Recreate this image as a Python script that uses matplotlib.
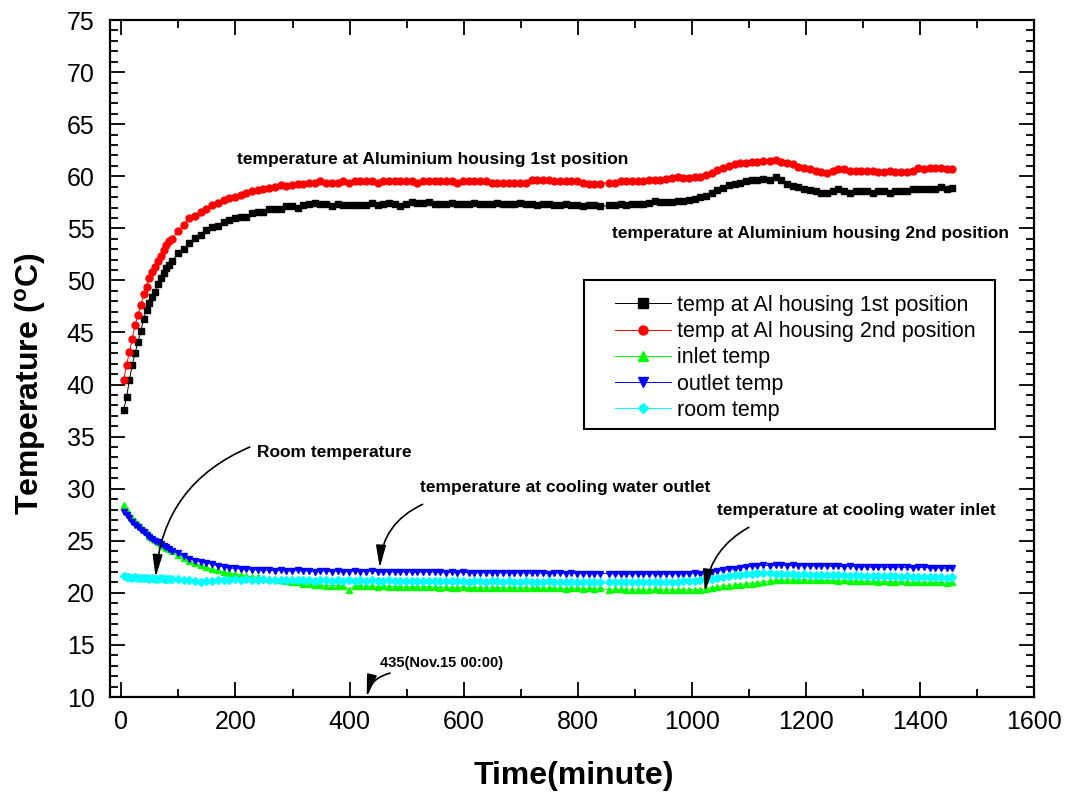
import matplotlib.pyplot as plt
import numpy as np
from matplotlib.patches import Rectangle
from matplotlib.ticker import MultipleLocator

plt.rcParams['font.family'] = ['Liberation Sans', 'DejaVu Sans']
plt.rcParams['mathtext.fontset'] = 'custom'
plt.rcParams['mathtext.rm'] = 'Liberation Sans'
plt.rcParams['mathtext.bf'] = 'Liberation Sans:bold'

# sampling times (minutes): 5 min at the start, then 10 min, with two logger gaps
time = np.concatenate([np.arange(4, 90, 5), np.arange(99, 840, 10),
                       np.arange(855, 1126, 10), np.arange(1137, 1458, 10)])

al_1st = [37.6, 38.8, 40.4, 41.9, 43.0, 44.1, 45.1, 46.3, 47.2, 47.8, 48.4, 48.9, 49.7, 50.2, 50.7, 51.2, 51.5, 51.9,
          52.6, 53.0, 53.6, 54.1, 54.4, 54.8, 55.1, 55.2, 55.6, 55.8, 56.0, 56.1, 56.1, 56.5, 56.6, 56.6, 56.9, 56.9,
          56.9, 57.1, 57.1, 57.0, 57.2,
          57.3, 57.4, 57.3, 57.3, 57.1, 57.3, 57.2, 57.2, 57.2, 57.2, 57.2, 57.4, 57.2, 57.3, 57.4, 57.3, 57.1, 57.3,
          57.5, 57.4, 57.4, 57.5, 57.3, 57.3, 57.3, 57.4, 57.3, 57.3, 57.3, 57.4, 57.3, 57.3, 57.3,
          57.4, 57.3, 57.3, 57.3, 57.4, 57.3, 57.3, 57.2, 57.3, 57.3, 57.2, 57.2, 57.3, 57.2, 57.2, 57.1, 57.2, 57.2, 57.1,
          57.2, 57.2, 57.3, 57.2, 57.3, 57.3,
          57.3, 57.4, 57.6, 57.5, 57.5, 57.5, 57.6, 57.6, 57.7, 57.8, 58.0, 58.1, 58.4, 58.7, 58.9, 59.2, 59.3, 59.4,
          59.5, 59.6, 59.6, 59.7,
          59.6, 59.9, 59.6, 59.3, 59.1, 59.0, 58.8, 58.7, 58.6, 58.4, 58.4, 58.6, 58.8, 58.6, 58.4, 58.6, 58.6, 58.6,
          58.4, 58.6, 58.6, 58.4, 58.6, 58.6, 58.6, 58.8, 58.8, 58.8, 58.8, 58.8, 59.0, 58.8, 58.9]

al_2nd = [40.4, 41.9, 43.1, 44.4, 45.7, 46.7, 47.6, 48.7, 49.4, 50.2, 50.8, 51.3, 51.9, 52.3, 52.9, 53.4, 53.8, 54.0,
          54.7, 55.3, 56.0, 56.2, 56.6, 56.9, 57.2, 57.4, 57.7, 57.9, 58.0, 58.2, 58.4, 58.6, 58.7, 58.8, 58.9, 59.0,
          59.2, 59.1, 59.2, 59.3, 59.3,
          59.4, 59.4, 59.5, 59.4, 59.4, 59.4, 59.5, 59.4, 59.5, 59.5, 59.5, 59.5, 59.4, 59.5, 59.5, 59.5, 59.5, 59.5,
          59.5, 59.4, 59.5, 59.5, 59.5, 59.5, 59.5, 59.5, 59.4, 59.5, 59.5, 59.5, 59.5, 59.5, 59.4, 59.4, 59.4, 59.4,
          59.4, 59.4, 59.4, 59.6, 59.6, 59.6, 59.6, 59.5, 59.5, 59.5, 59.5, 59.5, 59.4, 59.3, 59.3, 59.3,
          59.4, 59.4, 59.5, 59.5, 59.5, 59.5,
          59.54, 59.64, 59.64, 59.64, 59.7, 59.8, 59.9, 59.8, 59.8, 59.9, 59.96, 60.12, 60.34, 60.6, 60.82, 60.98,
          61.14, 61.24, 61.3, 61.4, 61.4, 61.46,
          61.5, 61.56, 61.4, 61.24, 61.14, 60.92, 60.76, 60.66, 60.53, 60.44, 60.34, 60.53, 60.66, 60.66, 60.53, 60.53,
          60.53, 60.53, 60.53, 60.44, 60.44, 60.5, 60.44, 60.44, 60.44, 60.53, 60.76, 60.66, 60.76, 60.76, 60.76,
          60.66, 60.66]

inlet = [28.4, 28.0, 27.6, 27.2, 26.9, 26.6, 26.3, 26.0, 25.8, 25.5, 25.3, 25.1, 24.9, 24.7, 24.5, 24.35, 24.2, 24.0,
         23.6, 23.35, 23.1, 22.85, 22.65, 22.45, 22.3, 22.15, 22.0, 21.9, 21.8, 21.7, 21.6, 21.55, 21.5, 21.4, 21.35,
         21.3, 21.2, 21.15, 21.05, 21.0, 20.9, 20.85, 20.75, 20.75, 20.7, 20.7, 20.7, 20.65, 20.3,
         20.7, 20.7, 20.65, 20.65, 20.6, 20.65, 20.6, 20.6, 20.6, 20.55, 20.6, 20.55, 20.55, 20.6, 20.55, 20.5, 20.55,
         20.5, 20.5, 20.55, 20.5, 20.5, 20.5, 20.5, 20.45, 20.5, 20.5, 20.45, 20.5, 20.5, 20.45, 20.45, 20.5, 20.45,
         20.45, 20.45, 20.45, 20.4, 20.45, 20.45, 20.4, 20.45, 20.4, 20.45,
         20.3, 20.35, 20.35, 20.3, 20.3, 20.3, 20.3, 20.3, 20.35, 20.3, 20.3, 20.3, 20.3, 20.3, 20.3, 20.3, 20.3,
         20.4, 20.5, 20.55, 20.65, 20.7, 20.75, 20.8, 20.85, 20.9, 20.95, 21.05,
         21.15, 21.2, 21.2, 21.25, 21.25, 21.25, 21.25, 21.2, 21.25, 21.2, 21.2, 21.2, 21.15, 21.2, 21.15, 21.15, 21.1,
         21.15, 21.1, 21.05, 21.1, 21.05, 21.05, 21.1, 21.05, 21.0, 21.05, 21.0, 21.0, 21.0, 21.0, 20.95, 21.0]

outlet = [27.8, 27.5, 27.2, 26.8, 26.5, 26.3, 26.0, 25.8, 25.6, 25.4, 25.2, 25.0, 24.85, 24.7, 24.5, 24.4, 24.2, 24.05,
          23.8, 23.5, 23.3, 23.1, 23.0, 22.85, 22.75, 22.6, 22.5, 22.4, 22.35, 22.3, 22.25, 22.2, 22.2, 22.15, 22.2,
          22.1, 22.15, 22.1, 22.1, 22.15, 22.1, 22.1, 22.05, 22.1, 22.1, 22.05, 22.1, 22.05, 22.05,
          22.1, 22.05, 22.05, 22.1, 22.05, 22.05, 22.0, 22.05, 22.0, 22.05, 22.0, 22.0, 22.0, 22.05, 22.0, 22.0, 21.95,
          22.0, 21.95, 22.0, 21.95, 21.95, 21.95, 21.95, 21.9, 21.95, 21.95, 21.9, 21.9, 21.95, 21.9, 21.9, 21.9, 21.9,
          21.85, 21.9, 21.9, 21.85, 21.9, 21.85, 21.85, 21.85, 21.85, 21.85,
          21.85, 21.8, 21.85, 21.8, 21.8, 21.85, 21.8, 21.8, 21.85, 21.8, 21.8, 21.8, 21.85, 21.8, 21.85, 21.9, 21.85,
          21.95, 22.0, 22.1, 22.15, 22.25, 22.3, 22.4, 22.5, 22.55, 22.6, 22.65,
          22.6, 22.65, 22.65, 22.6, 22.65, 22.6, 22.6, 22.6, 22.55, 22.6, 22.55, 22.55, 22.55, 22.5, 22.55, 22.5, 22.5,
          22.5, 22.45, 22.5, 22.45, 22.45, 22.5, 22.45, 22.45, 22.4, 22.45, 22.45, 22.4, 22.4, 22.4, 22.35, 22.4]

room = [21.6, 21.55, 21.5, 21.45, 21.5, 21.4, 21.45, 21.4, 21.4, 21.35, 21.4, 21.35, 21.35, 21.4, 21.3, 21.35, 21.3, 21.35,
        21.3, 21.25, 21.2, 21.15, 21.05, 21.1, 21.15, 21.2, 21.25, 21.2, 21.3, 21.25, 21.3, 21.25, 21.2, 21.3, 21.25,
        21.2, 21.25, 21.2, 21.2, 21.25, 21.2, 21.2, 21.15, 21.2, 21.2, 21.15, 21.2, 21.15, 21.2,
        21.15, 21.2, 21.15, 21.2, 21.15, 21.15, 21.2, 21.15, 21.1, 21.15, 21.15, 21.1, 21.15, 21.1, 21.15, 21.1, 21.1,
        21.15, 21.1, 21.1, 21.05, 21.1, 21.1, 21.05, 21.1, 21.1, 21.05, 21.1, 21.05, 21.05, 21.1, 21.05, 21.05, 21.05,
        21.1, 21.05, 21.05, 21.0, 21.05, 21.05, 21.0, 21.05, 21.0, 21.0,
        21.0, 21.05, 21.0, 21.0, 21.05, 21.0, 21.0, 21.05, 21.0, 21.0, 21.05, 21.0, 21.05, 21.1, 21.1, 21.15, 21.2,
        21.25, 21.35, 21.45, 21.55, 21.6, 21.7, 21.75, 21.8, 21.85, 21.9, 21.95,
        21.9, 21.85, 21.85, 21.8, 21.8, 21.75, 21.8, 21.75, 21.75, 21.7, 21.75, 21.7, 21.7, 21.7, 21.65, 21.7, 21.65,
        21.65, 21.6, 21.65, 21.6, 21.6, 21.6, 21.55, 21.6, 21.55, 21.55, 21.5, 21.55, 21.5, 21.5, 21.45, 21.5]

series = [(al_1st, 'k', 's', 'temp at Al housing 1st position'),
          (al_2nd, '#ff0000', 'o', 'temp at Al housing 2nd position'),
          (inlet, '#00ff00', '^', 'inlet temp'),
          (outlet, '#0000ff', 'v', 'outlet temp'),
          (room, '#00ffff', 'D', 'room temp')]

fig = plt.figure(figsize=(10.69, 8.01), dpi=100)
ax = fig.add_axes([0.1029, 0.1298, 0.8644, 0.8452])

for vals, col, mk, lab in series:
    ms = 4.3 if mk == 'D' else 5.0
    ax.plot(time, vals, color=col, lw=0.7, marker=mk, ms=ms, mec=col, mfc=col, label=lab)

ax.set_xlim(-20, 1600)
ax.set_ylim(10, 75)
ax.xaxis.set_major_locator(MultipleLocator(200))
ax.xaxis.set_minor_locator(MultipleLocator(100))
ax.yaxis.set_major_locator(MultipleLocator(5))
ax.yaxis.set_minor_locator(MultipleLocator(1))
ax.tick_params(which='both', direction='in', top=True, right=True, width=1.3, labelsize=18)
ax.tick_params(which='major', length=11)
ax.tick_params(which='minor', length=5.5)
ax.tick_params(axis='x', pad=9)
ax.tick_params(axis='y', pad=11)
for sp in ax.spines.values():
    sp.set_linewidth(1.6)

ax.set_xlabel('Time(minute)', fontsize=23, fontweight='bold')
ax.set_ylabel(r'Temperature ($\mathbf{^{o}}$C)', fontsize=23, fontweight='bold')
ax.xaxis.set_label_coords(0.502, -0.094)
ax.yaxis.set_label_coords(-0.067, 0.462)

bold = dict(fontsize=12.5, fontweight='bold', ha='left', va='center')
ax.text(202, 61.6, 'temperature at Aluminium housing 1st position', **bold)
ax.text(860, 54.55, 'temperature at Aluminium housing 2nd position', **bold)
ax.text(237, 33.45, 'Room temperature', **bold)
ax.text(523, 30.15, 'temperature at cooling water outlet', **bold)
ax.text(1044, 27.95, 'temperature at cooling water inlet', **bold)
ax.text(453, 13.3, '435(Nov.15 00:00)', fontsize=10.5, fontweight='bold', ha='left', va='center')

arrows = [((225, 34.0), (60, 21.5), 0.3),
          ((528, 28.5), (453, 22.4), 0.3),
          ((1100, 26.3), (1023, 20.1), 0.25),
          ((471, 12.3), (430, 10.0), 0.3)]
for start, tip, rad in arrows:
    ax.annotate('', xy=tip, xytext=start,
                arrowprops=dict(arrowstyle='-|>,head_length=0.9,head_width=0.2', color='k', lw=1.2,
                                mutation_scale=15, shrinkA=0, shrinkB=0,
                                connectionstyle='arc3,rad=%g' % rad))

ax.legend(loc='upper left', bbox_to_anchor=(0.5465, 0.594), frameon=False, borderpad=0, borderaxespad=0,
          handlelength=2.6, handletextpad=0.3, labelspacing=0.245, fontsize=15.5, markerscale=1.3)
ax.add_patch(Rectangle((0.513, 0.396), 0.4448, 0.2201, transform=ax.transAxes, fill=False,
                       lw=1.5, ec='k', zorder=5))

fig.savefig('out.png', dpi=100)
